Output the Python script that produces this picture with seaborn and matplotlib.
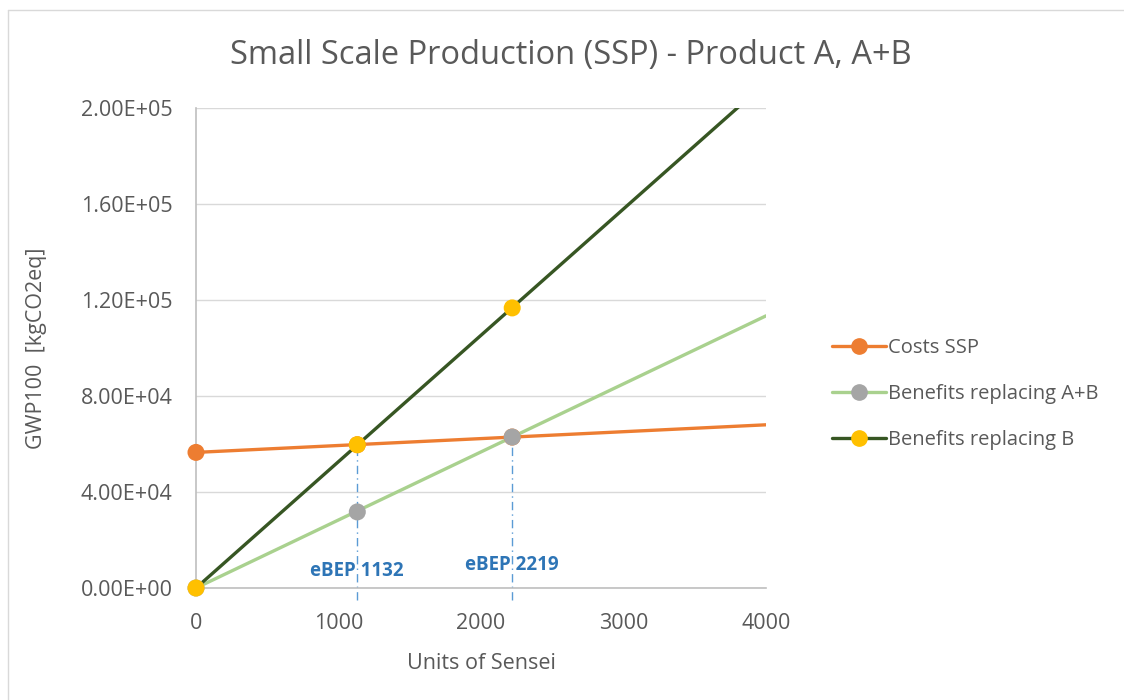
import numpy as np
import pandas as pd
import matplotlib.pyplot as plt
import seaborn as sns
from matplotlib.lines import Line2D

# values
x_line = [0, 4000]
costs_ssp = [56500, 68000]
benefits_ab = [0, 113400]
benefits_b = [0, 210600]

x_pts = [0, 1132, 2219]
costs_pts = [56500, 59700, 62900]
ab_pts = [0, 31700, 62900]
b_pts = [0, 59700, 116700]

bep_x = [1132, 2219]
bep_y = [59700, 62900]
bep_labels = ['eBEP 1132', 'eBEP 2219']

series = ['Costs SSP', 'Benefits replacing A+B', 'Benefits replacing B']
line_colors = ['#ED7D31', '#A9D18E', '#375623']
dot_colors = ['#ED7D31', '#A5A5A5', '#FFC000']

sns.set_style('white')
plt.rcParams['font.family'] = ['Open Sans', 'DejaVu Sans']
text_col = '#595959'

fig = plt.figure(figsize=(11.24, 7.0), dpi=100)
ax = fig.add_axes([196 / 1124, 1 - 588 / 700, 570 / 1124, 480 / 700])

lines = pd.DataFrame({'x': x_line * 3,
                      'y': costs_ssp + benefits_ab + benefits_b,
                      'series': [s for s in series for _ in x_line]})
sns.lineplot(data=lines, x='x', y='y', hue='series', palette=line_colors,
             linewidth=2.4, legend=False, ax=ax, zorder=3)

# dashed break-even guides
for bx, by in zip(bep_x, bep_y):
    ax.plot([bx, bx], [-5000, by], color='#5B9BD5', lw=1, ls=(0, (6, 3, 1, 3)),
            clip_on=False, zorder=2)

for ys, c in zip([costs_pts, ab_pts, b_pts], dot_colors):
    sns.scatterplot(x=x_pts, y=ys, color=c, s=150, edgecolor='none', ax=ax,
                    zorder=4, clip_on=False)

ax.text(bep_x[0], 7000, bep_labels[0], color='#2E75B6', fontsize=13.5,
        fontweight='bold', ha='center', va='center', zorder=5)
ax.text(bep_x[1], 9500, bep_labels[1], color='#2E75B6', fontsize=13.5,
        fontweight='bold', ha='center', va='center', zorder=5)

ax.set_xlim(0, 4000)
ax.set_ylim(0, 200000)
ax.set_xticks([0, 1000, 2000, 3000, 4000])
ax.set_yticks(np.arange(0, 200001, 40000))
ax.set_yticklabels([f'{v:.2E}' for v in np.arange(0, 200001, 40000)])
ax.tick_params(colors=text_col, labelsize=15.5, length=0)
ax.tick_params(axis='y', pad=17)
ax.tick_params(axis='x', pad=18)
ax.grid(axis='y', color='#D9D9D9', lw=1)
ax.set_axisbelow(True)
for s in ['top', 'right']:
    ax.spines[s].set_visible(False)
for s in ['left', 'bottom']:
    ax.spines[s].set_color('#BFBFBF')
    ax.spines[s].set_linewidth(1.2)

ax.set_xlabel('Units of Sensei', fontsize=15.5, color=text_col, labelpad=14)
ax.set_ylabel('GWP100  [kgCO2eq]', fontsize=15.5, color=text_col, labelpad=24)
fig.text(0.508, 0.921, 'Small Scale Production (SSP) - Product A, A+B',
         ha='center', va='center', fontsize=23.5, color=text_col)

handles = [Line2D([0], [0], color=lc, lw=2.4, marker='o', markersize=11,
                  markerfacecolor=dc, markeredgecolor=dc)
           for lc, dc in zip(line_colors, dot_colors)]
leg = fig.legend(handles, series, loc='center left', bbox_to_anchor=(0.724, 0.437),
                 frameon=False, fontsize=14.5, handlelength=2.7, handletextpad=0.1,
                 labelspacing=1.3)
for t in leg.get_texts():
    t.set_color(text_col)

# chart border
fig.add_artist(Line2D([8 / 1124, 8 / 1124], [0, 1 - 10 / 700], color='#D9D9D9', lw=1))
fig.add_artist(Line2D([8 / 1124, 1], [1 - 10 / 700, 1 - 10 / 700], color='#D9D9D9', lw=1))

fig.savefig('out.png', dpi=100)
